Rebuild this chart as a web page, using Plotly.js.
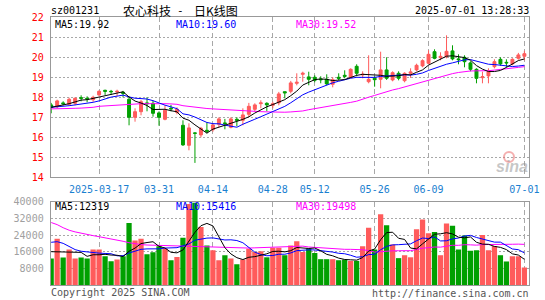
<!DOCTYPE html>
<html><head><meta charset="utf-8">
<script src="https://cdn.plot.ly/plotly-3.0.1.min.js"></script>
<style>html,body{margin:0;padding:0;background:#fff}#chart{width:545px;height:300px}</style>
</head><body><div id="chart"></div>
<script>
const dates = [
 '2025-03-05','2025-03-06','2025-03-07','2025-03-10','2025-03-11','2025-03-12','2025-03-13','2025-03-14','2025-03-17','2025-03-18',
 '2025-03-19','2025-03-20','2025-03-21','2025-03-24','2025-03-25','2025-03-26','2025-03-27','2025-03-28','2025-03-31','2025-04-01',
 '2025-04-02','2025-04-03','2025-04-07','2025-04-08','2025-04-09','2025-04-10','2025-04-11','2025-04-14','2025-04-15','2025-04-16',
 '2025-04-17','2025-04-18','2025-04-21','2025-04-22','2025-04-23','2025-04-24','2025-04-25','2025-04-28','2025-04-29','2025-04-30',
 '2025-05-06','2025-05-07','2025-05-08','2025-05-09','2025-05-12','2025-05-13','2025-05-14','2025-05-15','2025-05-16','2025-05-19',
 '2025-05-20','2025-05-21','2025-05-22','2025-05-23','2025-05-26','2025-05-27','2025-05-28','2025-05-29','2025-05-30','2025-06-03',
 '2025-06-04','2025-06-05','2025-06-06','2025-06-09','2025-06-10','2025-06-11','2025-06-12','2025-06-13','2025-06-16','2025-06-17',
 '2025-06-18','2025-06-19','2025-06-20','2025-06-23','2025-06-24','2025-06-25','2025-06-26','2025-06-27','2025-06-30','2025-07-01'];
const open = [17.62,17.53,17.72,17.65,17.70,17.98,17.95,17.88,18.12,18.35,
 18.30,18.27,18.25,17.90,17.00,17.28,17.72,17.70,17.22,16.90,
 17.45,17.25,16.60,15.60,16.22,16.12,16.35,16.38,16.65,16.72,
 16.50,16.90,16.85,17.15,17.40,17.68,17.70,17.60,17.72,18.28,
 18.30,18.70,19.15,19.02,19.00,18.92,18.90,18.65,19.00,19.10,
 19.00,19.55,19.12,18.78,18.95,18.90,19.37,18.87,19.20,18.83,
 19.20,19.37,19.57,19.70,20.28,19.98,20.03,20.32,19.92,20.00,
 19.72,19.40,18.98,19.07,19.53,19.90,19.75,19.67,19.95,20.05];
const high = [17.72,17.88,17.80,17.98,18.00,18.10,18.05,18.08,18.35,18.38,
 18.37,18.38,18.32,18.03,17.45,17.87,18.00,17.83,17.30,17.60,
 17.62,17.50,16.85,16.70,16.25,16.52,16.75,16.70,17.00,16.92,
 17.00,17.00,17.45,17.72,17.70,17.85,17.75,17.78,18.27,18.28,
 18.82,19.20,19.28,19.28,19.10,19.05,19.15,19.00,19.20,19.35,
 19.45,19.65,19.30,20.10,19.05,20.28,20.00,19.30,19.30,19.25,
 19.45,19.68,19.90,20.35,20.40,20.25,21.10,20.60,20.15,20.10,
 19.80,19.45,19.28,19.45,19.90,20.00,19.90,19.95,20.22,20.33];
const low = [17.20,17.45,17.60,17.60,17.60,17.80,17.75,17.78,18.05,18.12,
 18.12,18.05,18.00,16.60,16.78,17.10,17.30,17.03,16.58,16.85,
 17.30,17.15,15.57,15.35,14.72,16.00,16.20,16.28,16.50,16.40,
 16.45,16.55,16.60,17.02,17.30,17.45,17.30,17.45,17.60,17.95,
 18.20,18.60,18.78,18.60,18.75,18.70,18.60,18.50,18.85,18.95,
 18.95,19.05,18.95,18.70,18.53,18.45,18.87,18.80,18.85,18.75,
 18.97,19.30,19.50,19.65,19.90,19.85,19.95,19.85,19.65,19.50,
 19.30,18.70,18.70,18.70,19.45,19.58,19.50,19.60,19.88,19.85];
const close = [17.50,17.82,17.68,17.90,17.95,17.95,17.92,18.00,18.30,18.30,
 18.28,18.30,18.20,17.00,17.28,17.78,17.68,17.20,17.00,17.35,
 17.42,17.40,15.62,16.47,16.20,16.45,16.30,16.62,16.92,16.68,
 16.92,16.85,17.12,17.55,17.62,17.72,17.62,17.68,18.17,18.22,
 18.72,18.75,19.20,18.90,18.85,18.88,18.67,18.88,18.95,19.05,
 19.40,19.20,19.15,18.90,18.88,19.37,18.95,19.23,18.95,19.20,
 19.27,19.60,19.83,20.15,19.95,20.05,20.30,19.92,19.88,19.78,
 19.40,18.95,19.03,19.28,19.78,19.67,19.72,19.90,20.12,20.18];
const volume = [12700,22200,13200,17000,12700,13200,12700,17000,17000,13800,
 11400,12200,13800,29800,21400,22200,14800,15700,18600,17500,
 11900,13500,22700,38900,39500,27800,19000,16700,11900,14300,
 12700,10000,12200,17400,15800,16200,13300,17900,17900,14300,
 19000,21000,15900,17500,15400,12400,12400,12400,11900,12200,
 11600,11600,18600,27500,17000,34000,28700,19500,12900,14300,
 13300,26800,31500,24900,25400,14300,29500,28500,17100,23800,
 16500,16700,24000,16700,18700,14300,11300,13800,13800,8400];
// moving-average values for days before a full window exists
const ma5Head = [17.50,17.55,17.62,17.68];
const ma10Head = [17.50,17.52,17.55,17.58,17.62,17.66,17.70,17.75,17.82];
const ma30Head = [17.42,17.42,17.43,17.44,17.45,17.46,17.47,17.50,17.55,17.57,
 17.58,17.60,17.63,17.66,17.67,17.68,17.68,17.69,17.68,17.68,
 17.67,17.65,17.58,17.54,17.50,17.46,17.44,17.42,17.40];
const vma5Head = [16000,15900,15800,15700];
const vma10Head = [20500,20800,20000,18500,17000,16200,15800,15500,15300];
const vma30Head = [30000,29000,27500,26300,25500,24800,24200,23700,23200,22700,
 22300,21800,21000,20300,19800,19400,19200,19100,19000,18900,
 18800,18700,18600,18500,18400,18300,18200,18100,18000];
const tickDates = ['2025-03-17','2025-03-31','2025-04-14','2025-04-28','2025-05-12','2025-05-26','2025-06-09','2025-07-01'];
const tickLabels = ['2025-03-17','03-31','04-14','04-28','05-12','05-26','06-09','07-01'];
const priceTicks = [14,15,16,17,18,19,20,21,22];
const volTicks = [8000,16000,24000,32000,40000];
const volTickLabels = ['8000','16000','24000','32000','40000'];
const stockCode = 'sz001231';
const titleParts = ['农心科技', '-', '日K线图'];
const timeStamp = '2025-07-01 13:28:33';
const priceMaLabels = ['MA5:19.92','MA10:19.60','MA30:19.52'];
const volMaLabels = ['MA5:12319','MA10:15416','MA30:19498'];

function movingAvg(arr, n, head) {
  return arr.map((_, i) => {
    if (i < n - 1) return head[i];
    let s = 0; for (let k = i - n + 1; k <= i; k++) s += arr[k];
    return s / n;
  });
}

const W = 545, H = 300;
const px = x => x / W, py = y => 1 - y / H;
const RED = '#ff5b5b', GREEN = '#00a000';
const MONO = 'DejaVu Sans Mono';
const CJK = 'Noto Sans CJK SC';
const xDom = [px(50.7), px(529)];
const xRange = [-0.08, 79.77];

const volColors = close.map((c, i) => c >= open[i] ? RED : GREEN);

const traces = [
  {type:'candlestick', x:dates, open:open, high:high, low:low, close:close, xaxis:'x', yaxis:'y',
   increasing:{line:{color:RED,width:1}, fillcolor:RED},
   decreasing:{line:{color:GREEN,width:1}, fillcolor:GREEN},
   whiskerwidth:0, hoverinfo:'skip', showlegend:false},
  {type:'scatter', mode:'lines', x:dates, y:movingAvg(close,30,ma30Head), xaxis:'x', yaxis:'y', line:{color:'#ff00ff',width:1}, hoverinfo:'skip'},
  {type:'scatter', mode:'lines', x:dates, y:movingAvg(close,10,ma10Head), xaxis:'x', yaxis:'y', line:{color:'#0000ff',width:1}, hoverinfo:'skip'},
  {type:'scatter', mode:'lines', x:dates, y:movingAvg(close,5,ma5Head), xaxis:'x', yaxis:'y', line:{color:'#000000',width:1}, hoverinfo:'skip'},
  {type:'bar', x:dates, y:volume, xaxis:'x2', yaxis:'y2', marker:{color:volColors, line:{width:0}}, hoverinfo:'skip'},
  {type:'scatter', mode:'lines', x:dates, y:movingAvg(volume,30,vma30Head), xaxis:'x2', yaxis:'y2', line:{color:'#ff00ff',width:1}, hoverinfo:'skip'},
  {type:'scatter', mode:'lines', x:dates, y:movingAvg(volume,10,vma10Head), xaxis:'x2', yaxis:'y2', line:{color:'#0000ff',width:1}, hoverinfo:'skip'},
  {type:'scatter', mode:'lines', x:dates, y:movingAvg(volume,5,vma5Head), xaxis:'x2', yaxis:'y2', line:{color:'#000000',width:1}, hoverinfo:'skip'}
];

const gridCommon = {gridcolor:'#a8a8a8', gridwidth:1, showline:true, linecolor:'#999', linewidth:1, mirror:true, zeroline:false, ticks:'', fixedrange:true};

function ann(text, x, y, color, anchor, size, family, extra) {
  return Object.assign({text:text, x:px(x), y:py(y), xref:'paper', yref:'paper', xanchor:anchor, yanchor:'middle',
    showarrow:false, borderpad:0, font:{family:family||MONO, size:size||10, color:color}}, extra||{});
}

const annotations = [
  ann(stockCode, 50, 11, '#000', 'left'),
  ann(titleParts[0], 121.5, 10.5, '#000', 'left', 12, CJK),
  ann(titleParts[1], 180.5, 10.5, '#000', 'center', 11, MONO),
  ann(titleParts[2], 192.5, 10.5, '#000', 'left', 12, CJK),
  ann(timeStamp, 529.5, 11, '#000', 'right'),
  ann(priceMaLabels[0], 54, 24.5, '#000', 'left'),
  ann(priceMaLabels[1], 174.5, 24.5, '#0000ff', 'left'),
  ann(priceMaLabels[2], 294.5, 24.5, '#ff00ff', 'left'),
  ann(volMaLabels[0], 54, 206, '#000', 'left'),
  ann(volMaLabels[1], 174.5, 206, '#0000ff', 'left'),
  ann(volMaLabels[2], 294.5, 206, '#ff00ff', 'left'),
  ann('Copyright 2025 SINA.COM', 49.5, 292.5, '#555', 'left'),
  ann('http://finance.sina.com.cn', 529.5, 293, '#555', 'right'),
  ann('<b><i>sina</i></b>', 512, 166, 'rgba(150,150,150,0.55)', 'center', 16, 'Liberation Sans')
];

const layout = {
  width:W, height:H, margin:{l:0,r:0,t:0,b:0}, paper_bgcolor:'#fff', plot_bgcolor:'#fff',
  showlegend:false, bargap:0.12, boxgap:0.3,
  xaxis: Object.assign({}, gridCommon, {domain:xDom, anchor:'y', type:'category', categoryorder:'array', categoryarray:dates,
    range:xRange, tickmode:'array', tickvals:tickDates, ticktext:tickLabels, showgrid:true, griddash:'5px,3px',
    tickfont:{family:MONO, size:10, color:'#1a80d0'}, ticklabelstandoff:3, rangeslider:{visible:false}}),
  yaxis: Object.assign({}, gridCommon, {domain:[py(177.3), py(17.3)], anchor:'x', range:[14,22], tickmode:'array', tickvals:priceTicks,
    showgrid:true, griddash:'2px,2px', tickfont:{family:MONO, size:10, color:'#ff0000'}, ticklabelstandoff:4}),
  xaxis2: Object.assign({}, gridCommon, {domain:xDom, anchor:'y2', type:'category', categoryorder:'array', categoryarray:dates,
    range:xRange, tickmode:'array', tickvals:tickDates, showticklabels:false, showgrid:true, griddash:'5px,3px'}),
  yaxis2: Object.assign({}, gridCommon, {domain:[py(285), py(201.7)], anchor:'x2', range:[0,40000], tickmode:'array',
    tickvals:volTicks, ticktext:volTickLabels, showgrid:true, griddash:'2px,2px',
    tickfont:{family:MONO, size:10, color:'#a0a0a0'}, ticklabelstandoff:4}),
  annotations: annotations,
  shapes: [
    {type:'circle', xref:'paper', yref:'paper', x0:px(504), x1:px(514), y0:py(162), y1:py(152),
     line:{color:'rgba(235,110,110,0.55)', width:2}}
  ]
};

Plotly.newPlot('chart', traces, layout, {staticPlot:true, displayModeBar:false});
</script>
</body></html>
